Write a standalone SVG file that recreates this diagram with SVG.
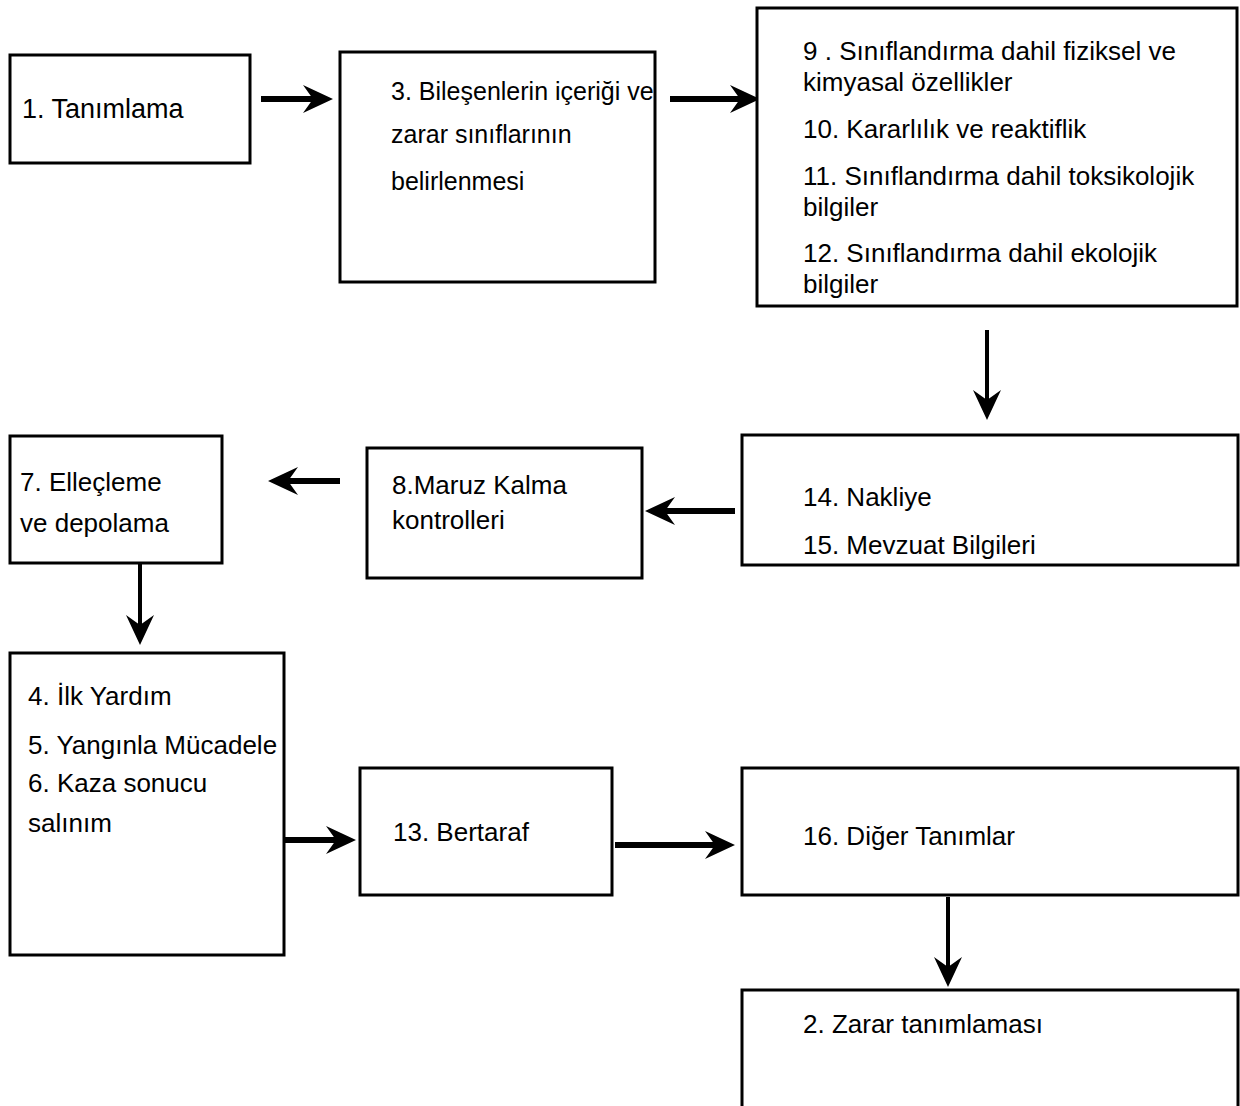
<svg xmlns="http://www.w3.org/2000/svg" width="1240" height="1106" viewBox="0 0 1240 1106">
<style>
.box{fill:#fff;stroke:#000;stroke-width:3}
text{font-family:"Liberation Sans",Arial,sans-serif;font-size:26px;fill:#000}
.sm{font-size:25px}
.lg{font-size:27px}
.thick{stroke:#000;stroke-width:6;fill:none}
.thin{stroke:#000;stroke-width:4;fill:none}
</style>
<defs>
<marker id="ah" viewBox="0 0 30 30" refX="10" refY="15" markerWidth="30" markerHeight="30" markerUnits="userSpaceOnUse" orient="auto">
<path d="M0,1 L30,15 L0,29 L10,15 Z" fill="#000"/>
</marker>
</defs>
<rect width="1240" height="1106" fill="#fff"/>
<g id="connectors">
<line class="thick" x1="261" y1="99" x2="313" y2="99" marker-end="url(#ah)"/>
<line class="thick" x1="670" y1="99" x2="740" y2="99" marker-end="url(#ah)"/>
<line class="thin" x1="987" y1="330" x2="987" y2="400" marker-end="url(#ah)"/>
<line class="thick" x1="735" y1="511" x2="665" y2="511" marker-end="url(#ah)"/>
<line class="thick" x1="340" y1="481" x2="288" y2="481" marker-end="url(#ah)"/>
<line class="thin" x1="140" y1="563" x2="140" y2="625" marker-end="url(#ah)"/>
<line class="thick" x1="285" y1="840" x2="336" y2="840" marker-end="url(#ah)"/>
<line class="thick" x1="615" y1="845" x2="715" y2="845" marker-end="url(#ah)"/>
<line class="thin" x1="948" y1="897" x2="948" y2="967" marker-end="url(#ah)"/>
</g>
<g id="n1"><rect class="box" x="10" y="55" width="240" height="108"/><text class="lg" x="22" y="118">1. Tanımlama</text></g>
<g id="n3"><rect class="box" x="340" y="52" width="315" height="230"/>
<text class="sm" x="391" y="100">3. Bileşenlerin içeriği ve</text>
<text class="sm" x="391" y="143">zarar sınıflarının</text>
<text class="sm" x="391" y="190">belirlenmesi</text></g>
<g id="n9"><rect class="box" x="757" y="8" width="480" height="298"/>
<text x="803" y="60">9 . Sınıflandırma dahil fiziksel ve</text>
<text x="803" y="91">kimyasal özellikler</text>
<text x="803" y="138">10. Kararlılık ve reaktiflik</text>
<text x="803" y="185">11. Sınıflandırma dahil toksikolojik</text>
<text x="803" y="216">bilgiler</text>
<text x="803" y="262">12. Sınıflandırma dahil ekolojik</text>
<text x="803" y="293">bilgiler</text></g>
<g id="n14"><rect class="box" x="742" y="435" width="496" height="130"/>
<text x="803" y="506">14. Nakliye</text>
<text x="803" y="554">15. Mevzuat Bilgileri</text></g>
<g id="n8"><rect class="box" x="367" y="448" width="275" height="130"/>
<text x="392" y="494">8.Maruz Kalma</text>
<text x="392" y="529">kontrolleri</text></g>
<g id="n7"><rect class="box" x="10" y="436" width="212" height="127"/>
<text x="20" y="491">7. Elleçleme</text>
<text x="20" y="532">ve depolama</text></g>
<g id="n4"><rect class="box" x="10" y="653" width="274" height="302"/>
<text x="28" y="705">4. İlk Yardım</text>
<text x="28" y="754">5. Yangınla Mücadele</text>
<text x="28" y="792">6. Kaza sonucu</text>
<text x="28" y="832">salınım</text></g>
<g id="n13"><rect class="box" x="360" y="768" width="252" height="127"/>
<text x="393" y="841">13. Bertaraf</text></g>
<g id="n16"><rect class="box" x="742" y="768" width="496" height="127"/>
<text x="803" y="845">16. Diğer Tanımlar</text></g>
<g id="n2"><rect class="box" x="742" y="990" width="496" height="130"/>
<text x="803" y="1033">2. Zarar tanımlaması</text></g>
</svg>
